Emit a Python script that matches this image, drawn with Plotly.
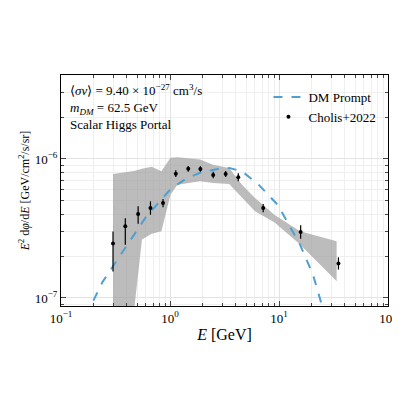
import plotly.graph_objects as go

# data points (Cholis+2022)
pt_e = [0.30, 0.389, 0.51, 0.662, 0.863, 1.13, 1.47, 1.90, 2.49, 3.24, 4.23, 7.16, 15.8, 35.1]
pt_y = [2.46e-7, 3.28e-7, 4.02e-7, 4.44e-7, 4.82e-7, 7.84e-7, 8.51e-7, 8.47e-7, 7.67e-7, 7.8e-7, 7.38e-7, 4.44e-7, 2.98e-7, 1.77e-7]
pt_hi = [3.0e-7, 3.75e-7, 4.56e-7, 4.95e-7, 5.15e-7, 8.3e-7, 8.9e-7, 8.85e-7, 8.1e-7, 8.2e-7, 7.9e-7, 4.75e-7, 3.33e-7, 1.96e-7]
pt_lo = [1.55e-7, 2.41e-7, 3.42e-7, 3.97e-7, 4.5e-7, 7.4e-7, 8.1e-7, 8.1e-7, 7.25e-7, 7.4e-7, 6.9e-7, 4.13e-7, 2.67e-7, 1.6e-7]

# systematic band
band_e = [0.30, 0.467, 0.553, 0.679, 0.834, 1.01, 1.17, 1.89, 2.48, 3.49, 4.58, 6.02, 9.06, 15.6, 33.8]
band_hi = [7.8e-7, 8.2e-7, 8.5e-7, 8.77e-7, 8.15e-7, 1.02e-6, 1.03e-6, 9.9e-7, 9.1e-7, 8.6e-7, 6.53e-7, 5.24e-7, 3.97e-7, 3.02e-7, 2.56e-7]
band_lo = [1e-8, 8.0e-8, 2.63e-7, 2.9e-7, 3.02e-7, 5.53e-7, 6.53e-7, 6.9e-7, 6.7e-7, 6.6e-7, 5.24e-7, 4.2e-7, 3.5e-7, 2.42e-7, 1.32e-7]

# DM prompt curve
dm_e = [0.15, 0.184, 0.24, 0.30, 0.394, 0.594, 1.02, 1.4, 1.89, 2.6, 3.5, 4.58, 6.5, 9.7, 15.6, 20.5, 25.2, 30.0]
dm_y = [5.5e-8, 8.5e-8, 1.3e-7, 1.69e-7, 2.35e-7, 3.77e-7, 6.1e-7, 7.2e-7, 7.95e-7, 8.4e-7, 8.6e-7, 8.15e-7, 6.53e-7, 4.69e-7, 2.42e-7, 1.47e-7, 8.45e-8, 4.5e-8]

x_ticks = [0.1, 1, 10, 100]
x_labels = ["10<sup>−1</sup>", "10<sup>0</sup>", "10<sup>1</sup>", "10<sup>2</sup>"]
y_ticks = [1e-7, 1e-6]
y_labels = ["10<sup>−7</sup>", "10<sup>−6</sup>"]
x_minor = [m * 10 ** d for d in (-1, 0, 1) for m in range(2, 10)]
y_minor = [m * 10 ** d for d in (-8, -7, -6) for m in range(2, 10)]

font = "Liberation Serif"
fig = go.Figure()
fig.add_trace(go.Scatter(x=band_e + band_e[::-1], y=band_hi + band_lo[::-1], fill="toself",
                         fillcolor="rgba(160,160,160,0.7)", line=dict(width=0), showlegend=False, hoverinfo="skip"))
fig.add_trace(go.Scatter(x=dm_e, y=dm_y, mode="lines", name="DM Prompt",
                         line=dict(color="#4f9fd0", width=2, dash="dash")))
fig.add_trace(go.Scatter(x=pt_e, y=pt_y, mode="markers", name="Cholis+2022",
                         marker=dict(color="black", size=4),
                         error_y=dict(type="data", symmetric=False,
                                      array=[h - v for h, v in zip(pt_hi, pt_y)],
                                      arrayminus=[v - l for l, v in zip(pt_lo, pt_y)],
                                      color="black", thickness=1.2, width=0)))

ax = dict(type="log", showline=True, linecolor="black", mirror="ticks", ticks="inside",
          showgrid=True, gridcolor="#e3e3e3", zeroline=False, tickfont=dict(size=13))
fig.update_layout(
    width=400, height=400, template="none", plot_bgcolor="white",
    margin=dict(l=53, r=20, t=67, b=102),
    font=dict(family=font, color="black", size=13),
    xaxis=dict(ax, range=[-1, 2], tickvals=x_ticks, ticktext=x_labels,
               minor=dict(tickvals=x_minor, ticks="inside", ticklen=3, showgrid=True, gridcolor="#efefef"),
               title=dict(text="<i>E</i> [GeV]", standoff=4)),
    yaxis=dict(ax, range=[-7.058, -5.396], tickvals=y_ticks, ticktext=y_labels,
               minor=dict(tickvals=y_minor, ticks="inside", ticklen=3, showgrid=True, gridcolor="#efefef"),
               title=dict(text="<i>E</i><sup>2</sup> d<i>φ</i>/d<i>E</i> [GeV/cm<sup>2</sup>/s/sr]", standoff=2, font=dict(size=12))),
    legend=dict(x=0.98, y=0.97, xanchor="right", yanchor="top", bgcolor="rgba(0,0,0,0)", font=dict(size=13)),
    annotations=[dict(xref="paper", yref="paper", x=0.02, y=0.98, xanchor="left", yanchor="top", showarrow=False, align="left",
                      text="⟨<i>σv</i>⟩ = 9.40 × 10<sup>−27</sup> cm<sup>3</sup>/s<br><i>m<sub>DM</sub></i> = 62.5 GeV<br>Scalar Higgs Portal",
                      font=dict(size=13))],
)
fig.write_html("out.html")
